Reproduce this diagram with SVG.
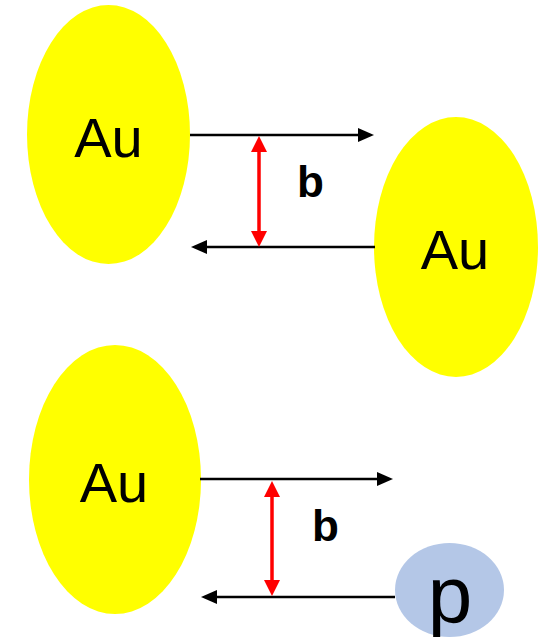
<svg xmlns="http://www.w3.org/2000/svg" width="549" height="637" viewBox="0 0 549 637">
<style>
.au{fill:#FFFF00}
.pe{fill:#B4C7E7}
.lbl{font-family:"Liberation Sans",Arial,sans-serif;font-size:56px;fill:#000;text-anchor:middle}
.b{font-family:"Liberation Sans",Arial,sans-serif;font-size:44px;font-weight:bold;fill:#000;text-anchor:middle}
.blk{stroke:#000;stroke-width:2.5;fill:none}
.red{stroke:#FF0000;stroke-width:3.5;fill:none}
</style>
<defs>
<marker id="ab" viewBox="0 0 16 14" refX="8" refY="7" markerWidth="16" markerHeight="14" markerUnits="userSpaceOnUse" orient="auto">
<polygon points="0,0 16,7 0,14" fill="#000"/>
</marker>
<marker id="ar" viewBox="0 0 16 16" refX="8" refY="8" markerWidth="16" markerHeight="16" markerUnits="userSpaceOnUse" orient="auto-start-reverse">
<polygon points="0,0 16,8 0,16" fill="#FF0000"/>
</marker>
</defs>
<g id="au1"><ellipse class="au" cx="108.5" cy="134.5" rx="81.5" ry="129.5"/><text class="lbl" x="108.5" y="157">Au</text></g>
<g id="au2"><ellipse class="au" cx="456" cy="247" rx="82" ry="130"/><text class="lbl" x="455" y="269">Au</text></g>
<g id="au3"><ellipse class="au" cx="115" cy="479.5" rx="86" ry="134.5"/><text class="lbl" x="114" y="502">Au</text></g>
<g id="p"><ellipse class="pe" cx="449.5" cy="590" rx="54.5" ry="47"/><text class="lbl" style="font-size:80px" x="450" y="622">p</text></g>
<g id="connectors">
<line class="blk" x1="190" y1="135" x2="366" y2="135" marker-end="url(#ab)"/>
<line class="blk" x1="375" y1="247" x2="199" y2="247" marker-end="url(#ab)"/>
<line class="red" x1="259" y1="144" x2="259" y2="239" marker-start="url(#ar)" marker-end="url(#ar)"/>
<line class="blk" x1="200" y1="479" x2="385" y2="479" marker-end="url(#ab)"/>
<line class="blk" x1="395" y1="597" x2="209" y2="597" marker-end="url(#ab)"/>
<line class="red" x1="272" y1="489" x2="272" y2="588" marker-start="url(#ar)" marker-end="url(#ar)"/>
</g>
<text class="b" x="310.5" y="197">b</text>
<text class="b" x="325.5" y="541">b</text>
</svg>
